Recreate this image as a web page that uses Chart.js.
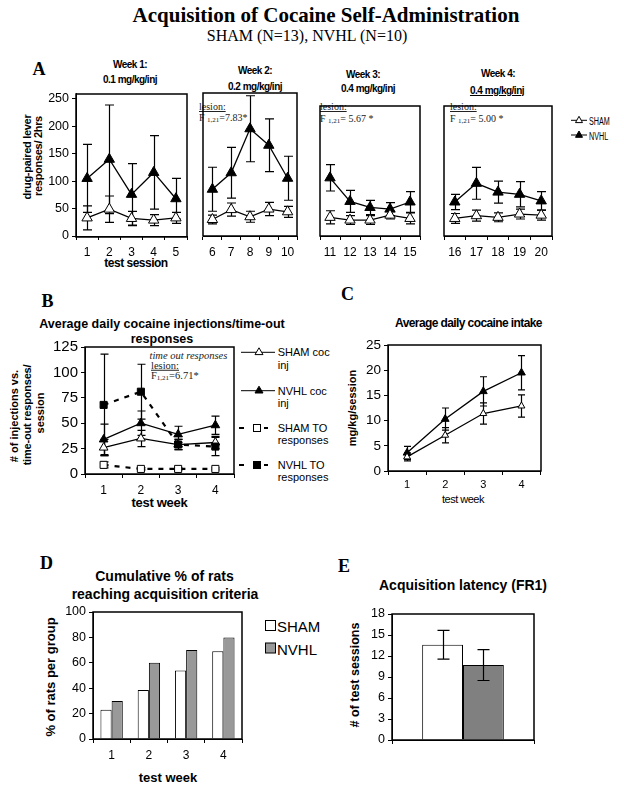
<!DOCTYPE html>
<html>
<head>
<meta charset="utf-8">
<script src="https://cdn.jsdelivr.net/npm/chart.js@4.4.0/dist/chart.umd.min.js"></script>
<style>
  body { margin: 0; background: #fff; }
  #fig { position: relative; width: 624px; height: 786px; overflow: hidden;
         font-family: 'Liberation Sans', Arial, sans-serif; color: #000; }
  #fig canvas, #fig svg { position: absolute; }
  .t { position: absolute; transform: translate(-50%, -50%); white-space: nowrap; line-height: 1; }
  .l { position: absolute; transform: translateY(-50%); white-space: nowrap; line-height: 1; }
  .rot { position: absolute; transform: translate(-50%, -50%) rotate(-90deg); white-space: nowrap; line-height: 1; }
  .serif { font-family: 'Liberation Serif', 'Times New Roman', serif; }
  .b { font-weight: bold; }
  .big { font-family: 'Liberation Serif', 'Times New Roman', serif; font-weight: bold; font-size: 18px; }
  .wk { font-weight: bold; font-size: 10px; letter-spacing: -0.5px; }
  .les { font-family: 'Liberation Serif', 'Times New Roman', serif; font-size: 10px; color: #222; }
  .les sub { font-size: 7px; vertical-align: -1px; }
  .nar { display: inline-block; transform: scaleX(0.72); transform-origin: 0 50%; font-size: 10px; }
</style>
</head>
<body>
<div id="fig">
  <!-- titres -->
  <div class="t serif b" style="left:326px;top:15px;font-size:21px">Acquisition of Cocaine Self-Administration</div>
  <div class="t serif" style="left:307px;top:36px;font-size:16px">SHAM (N=13), NVHL (N=10)</div>

  <!-- panneau A -->
  <div class="t big" style="left:39px;top:69px">A</div>
  <div class="t wk" style="left:130px;top:65px">Week 1:</div>
  <div class="t wk" style="left:130px;top:80px">0.1 mg/kg/inj</div>
  <div class="t wk" style="left:255px;top:71px">Week 2:</div>
  <div class="t wk" style="left:255px;top:86.5px">0.2 mg/kg/inj</div>
  <div class="t wk" style="left:363px;top:75px">Week 3:</div>
  <div class="t wk" style="left:368px;top:89px">0.4 mg/kg/inj</div>
  <div class="t wk" style="left:498px;top:74px">Week 4:</div>
  <div class="t wk" style="left:497px;top:91px;text-decoration:underline">0.4 mg/kg/inj</div>
  <div class="rot b" style="left:27px;top:157px;font-size:11px;letter-spacing:-0.3px">drug-paired lever</div>
  <div class="rot b" style="left:38px;top:156px;font-size:11px;letter-spacing:-0.3px">responses/ 2hrs</div>
  <div class="t b" style="left:136px;top:263px;font-size:12px;letter-spacing:-0.5px">test session</div>
  <div class="l les" style="left:199px;top:107px;text-decoration:underline">lesion:</div>
  <div class="l les" style="left:199px;top:117.5px">F <sub>1,21</sub>=7.83*</div>
  <div class="l les" style="left:320px;top:107px;text-decoration:underline">lesion:</div>
  <div class="l les" style="left:320px;top:118.5px">F <sub>1,21</sub>= 5.67 *</div>
  <div class="l les" style="left:450px;top:107px;text-decoration:underline">lesion:</div>
  <div class="l les" style="left:450px;top:118.5px">F <sub>1,21</sub>= 5.00 *</div>
  <svg style="left:568px;top:112px" width="22" height="30">
    <line x1="3" y1="8.3" x2="19" y2="8.3" stroke="#000"/>
    <polygon points="11,4.3 14.5,10.6 7.5,10.6" fill="#fff" stroke="#000"/>
    <line x1="3" y1="23" x2="19" y2="23" stroke="#000"/>
    <polygon points="11,19 14.5,25.3 7.5,25.3" fill="#000" stroke="#000"/>
  </svg>
  <div class="l" style="left:588.5px;top:120.3px"><span class="nar">SHAM</span></div>
  <div class="l" style="left:588.5px;top:135px"><span class="nar">NVHL</span></div>

  <!-- panneau B -->
  <div class="t big" style="left:47.5px;top:301px">B</div>
  <div class="t b" style="left:162px;top:324px;font-size:12.5px">Average daily cocaine injections/time-out</div>
  <div class="t b" style="left:162px;top:339px;font-size:12.5px">responses</div>
  <div class="rot b" style="left:14px;top:416px;font-size:11px">#&nbsp;of injections vs.</div>
  <div class="rot b" style="left:27px;top:415px;font-size:11px;letter-spacing:-0.2px">time-out responses/</div>
  <div class="rot b" style="left:39.5px;top:413px;font-size:11px">session</div>
  <div class="t b" style="left:159.5px;top:502px;font-size:13px;letter-spacing:-0.3px">test week</div>
  <div class="l les" style="left:149.5px;top:356px;font-style:italic;font-size:10.5px">time out responses</div>
  <div class="l les" style="left:151px;top:365.5px;text-decoration:underline;font-size:10.5px">lesion:</div>
  <div class="l les" style="left:151px;top:375.5px;font-size:10.5px">F<sub>1,21</sub>=6.71*</div>
  <svg style="left:236px;top:340px" width="44" height="140">
    <line x1="5" y1="12.3" x2="39" y2="12.3" stroke="#000"/>
    <polygon points="23,7.8 27,14.6 19,14.6" fill="#fff" stroke="#000"/>
    <line x1="5" y1="50.7" x2="39" y2="50.7" stroke="#000"/>
    <polygon points="23,46.2 27,53 19,53" fill="#000" stroke="#000"/>
    <line x1="3" y1="88" x2="8" y2="88" stroke="#000" stroke-width="2"/>
    <rect x="17.5" y="84.5" width="7" height="7" fill="#fff" stroke="#000"/>
    <line x1="28" y1="88" x2="32" y2="88" stroke="#000" stroke-width="2"/>
    <line x1="3" y1="125" x2="8" y2="125" stroke="#000" stroke-width="2"/>
    <rect x="17.5" y="121.5" width="7" height="7" fill="#000" stroke="#000"/>
    <line x1="28" y1="125" x2="32" y2="125" stroke="#000" stroke-width="2"/>
  </svg>
  <div class="l" style="left:277.7px;top:352.3px;font-size:11px">SHAM coc</div>
  <div class="l" style="left:277.7px;top:364.5px;font-size:11px">inj</div>
  <div class="l" style="left:277.7px;top:390.7px;font-size:11px">NVHL coc</div>
  <div class="l" style="left:277.7px;top:403px;font-size:11px">inj</div>
  <div class="l" style="left:277.7px;top:428px;font-size:11px">SHAM TO</div>
  <div class="l" style="left:277.7px;top:440px;font-size:11px">responses</div>
  <div class="l" style="left:277.7px;top:465px;font-size:11px">NVHL TO</div>
  <div class="l" style="left:277.7px;top:477px;font-size:11px">responses</div>

  <!-- panneau C -->
  <div class="t big" style="left:347.5px;top:293.5px">C</div>
  <div class="t b" style="left:468.5px;top:323px;font-size:12px;letter-spacing:-0.6px">Average daily cocaine intake</div>
  <div class="rot b" style="left:352px;top:408px;font-size:11px">mg/kg/session</div>
  <div class="t" style="left:463px;top:499px;font-size:11px;letter-spacing:-0.5px">test week</div>

  <!-- panneau D -->
  <div class="t big" style="left:46.5px;top:562.5px">D</div>
  <div class="t b" style="left:164.5px;top:576px;font-size:14px">Cumulative % of rats</div>
  <div class="t b" style="left:165px;top:594px;font-size:14px">reaching acquisition criteria</div>
  <div class="rot b" style="left:50px;top:677px;font-size:13px">% of rats per group</div>
  <div class="t b" style="left:168px;top:777px;font-size:13px">test week</div>
  <svg style="left:262px;top:617px" width="16" height="40">
    <rect x="3.5" y="3.5" width="10" height="10" fill="#fff" stroke="#000"/>
    <rect x="3.5" y="26" width="10" height="10" fill="#999" stroke="#000"/>
  </svg>
  <div class="l" style="left:277px;top:626px;font-size:15px">SHAM</div>
  <div class="l" style="left:277px;top:648.5px;font-size:15px">NVHL</div>

  <!-- panneau E -->
  <div class="t big" style="left:344px;top:565.5px">E</div>
  <div class="t b" style="left:463px;top:585px;font-size:14px">Acquisition latency (FR1)</div>
  <div class="rot b" style="left:355px;top:675px;font-size:12.5px">#&nbsp;of test sessions</div>
</div>

<script>
// Données
// A : réponses sur le levier actif / 2 h, séances 1 à 20
const sessions = ['1','2','3','4','5','6','7','8','9','10','11','12','13','14','15','16','17','18','19','20'];
const nvhlResp = [105,140,76,116,68, 85,115,195,165,105, 106,63,52,49,62, 62,96,80,76,64];
const nvhlRespErr = [62,99,56,67,37, 40,46,60,48,40, 24,20,13,12,19, 14,29,20,23,17];
const shamResp = [33,49,32,29,33, 30,48,35,49,44, 34,29,29,38,32, 32,37,34,40,38];
const shamRespErr = [22,24,13,10,10, 8,12,10,12,10, 12,8,8,7,10, 9,10,8,9,9];

// B : injections et réponses en time-out par semaine
const weeks = ['1','2','3','4'];
const shamCoc = [26,35,29,31];
const shamCocErr = [8,8,5,6];
const nvhlCoc = [34,50,39,48];
const nvhlCocErr = [15,12,8,9];
const shamTO = [9,5,5,5];
const shamTOErr = [3,1,1,1];
const nvhlTO = [68,81,29,27];
const nvhlTOErr = [50,27,5,9];

// C : apport moyen de cocaïne (mg/kg/séance)
const shamIntake = [2.8,7.1,11.4,12.9];
const shamIntakeErr = [0.8,1.5,2.1,2.2];
const nvhlIntake = [3.6,10.3,15.8,19.5];
const nvhlIntakeErr = [1.3,2.2,2.9,3.4];

// D : % cumulé de rats atteignant le critère
const shamPct = [23,38.5,54,69];
const nvhlPct = [30,60,70,80];

// E : latence d'acquisition
const shamLatency = [13.6];
const shamLatencyErr = [2.05];
const nvhlLatency = [10.7];
const nvhlLatencyErr = [2.2];

const SANS = "'Liberation Sans', Arial, sans-serif";
Chart.defaults.font.family = SANS;
Chart.defaults.color = '#000';

// barres d'erreur (avant les points pour les lignes, après pour les barres)
function drawErrors(chart, opts) {
  const ctx = chart.ctx;
  const y = chart.scales.y;
  ctx.save();
  ctx.strokeStyle = '#000';
  ctx.lineWidth = 1.2;
  chart.data.datasets.forEach((ds, i) => {
    if (!ds.errors) return;
    chart.getDatasetMeta(i).data.forEach((el, j) => {
      const v = ds.data[j], e = ds.errors[j];
      const x = Math.round(el.x) + 0.5;
      const top = y.getPixelForValue(v + e), bot = y.getPixelForValue(v - e);
      const c = opts.cap || 4;
      ctx.beginPath();
      ctx.moveTo(x, top); ctx.lineTo(x, bot);
      ctx.moveTo(x - c, top); ctx.lineTo(x + c, top);
      ctx.moveTo(x - c, bot); ctx.lineTo(x + c, bot);
      ctx.stroke();
    });
  });
  ctx.restore();
}
const errorBars = {
  id: 'errorBars',
  beforeDatasetsDraw(chart, args, opts) { if (!opts.after) drawErrors(chart, opts); },
  afterDatasetsDraw(chart, args, opts) { if (opts.after) drawErrors(chart, opts); }
};
// cadre autour de la zone de tracé
const frame = {
  id: 'frame',
  afterDraw(chart) {
    const a = chart.chartArea, ctx = chart.ctx;
    ctx.save();
    ctx.strokeStyle = '#000';
    ctx.lineWidth = 1.5;
    ctx.strokeRect(Math.round(a.left), Math.round(a.top),
                   Math.round(a.right - a.left), Math.round(a.bottom - a.top));
    ctx.restore();
  }
};
Chart.register(errorBars, frame);

// crée un canvas dont la zone de tracé tombe sur area = [gauche, haut, droite, bas]
function makeChart(area, m, config) {
  const cv = document.createElement('canvas');
  const w = area[2] - area[0] + m.l + m.r;
  const h = area[3] - area[1] + m.t + m.b;
  cv.width = w; cv.height = h;
  cv.style.left = (area[0] - m.l) + 'px';
  cv.style.top = (area[1] - m.t) + 'px';
  cv.style.width = w + 'px';
  cv.style.height = h + 'px';
  document.getElementById('fig').appendChild(cv);
  const o = config.options;
  o.responsive = false;
  o.animation = false;
  o.layout = { padding: { top: m.t, right: m.r, left: 0, bottom: 0 } };
  o.plugins = Object.assign({ legend: { display: false }, tooltip: { enabled: false } }, o.plugins);
  o.scales.x.afterFit = s => { s.height = m.b; };
  o.scales.y.afterFit = s => { s.width = m.l; };
  return new Chart(cv, config);
}

function line(data, errors, fill, style, r, dashed) {
  return {
    data: data, errors: errors,
    borderColor: '#000', borderWidth: dashed ? 2.2 : 1.3, borderDash: dashed ? [5, 6] : [],
    pointStyle: style, pointRadius: r, pointBackgroundColor: fill,
    pointBorderColor: '#000', pointBorderWidth: 1, fill: false, tension: 0
  };
}
function xAxis(size, pad, show) {
  return {
    type: 'category', offset: true,
    grid: { offset: true, drawOnChartArea: false, drawTicks: true, tickLength: 4, color: '#000' },
    border: { color: '#000' },
    ticks: { display: show !== false, font: { size: size }, padding: pad, maxRotation: 0, autoSkip: false }
  };
}
function yAxis(max, step, size, show) {
  return {
    display: show, min: 0, max: max,
    grid: { drawOnChartArea: false, tickLength: 4, color: '#000' },
    border: { color: '#000' },
    ticks: { stepSize: step, includeBounds: false, font: { size: size }, padding: 3 }
  };
}

// Panneau A : une boîte par semaine
const boxesA = [
  [[76, 93, 192, 236], 260, 76],
  [[196, 93, 302, 236], 260, 0],
  [[313, 106, 425, 236], 237, 0],
  [[437, 106, 557, 236], 237, 0]
];
boxesA.forEach((bx, k) => {
  const s = k * 5, e = s + 5;
  makeChart(bx[0], { l: bx[2], t: 10, r: 2, b: 26 }, {
    type: 'line',
    data: {
      labels: sessions.slice(s, e),
      datasets: [
        line(shamResp.slice(s, e), shamRespErr.slice(s, e), '#fff', 'triangle', 6),
        line(nvhlResp.slice(s, e), nvhlRespErr.slice(s, e), '#000', 'triangle', 6)
      ]
    },
    options: {
      plugins: { errorBars: { cap: 4.5 } },
      scales: { x: xAxis(12, 5), y: yAxis(bx[1], 50, 12.5, k === 0) }
    }
  });
});

// Panneau B
makeChart([85, 347, 238, 474], { l: 85, t: 12, r: 2, b: 24 }, {
  type: 'line',
  data: {
    labels: weeks,
    datasets: [
      line(shamTO, shamTOErr, '#fff', 'rect', 5, true),
      line(nvhlTO, nvhlTOErr, '#000', 'rect', 5, true),
      line(shamCoc, shamCocErr, '#fff', 'triangle', 5),
      line(nvhlCoc, nvhlCocErr, '#000', 'triangle', 5)
    ]
  },
  options: {
    plugins: { errorBars: { cap: 4 } },
    scales: { x: xAxis(12, 5), y: yAxis(125, 25, 15, true) }
  }
});

// Panneau C
makeChart([388, 345, 542, 471], { l: 48, t: 12, r: 4, b: 24 }, {
  type: 'line',
  data: {
    labels: weeks,
    datasets: [
      line(shamIntake, shamIntakeErr, '#fff', 'triangle', 4),
      line(nvhlIntake, nvhlIntakeErr, '#000', 'triangle', 4.5)
    ]
  },
  options: {
    plugins: { errorBars: { cap: 3.5 } },
    scales: { x: xAxis(11, 3), y: yAxis(25, 5, 13.5, true) }
  }
});

// Panneau D
makeChart([93, 612, 242, 739], { l: 60, t: 12, r: 4, b: 26 }, {
  type: 'bar',
  data: {
    labels: weeks,
    datasets: [
      { data: shamPct, backgroundColor: '#fff', borderColor: '#000', borderWidth: 1 },
      { data: nvhlPct, backgroundColor: '#999', borderColor: '#000', borderWidth: 1 }
    ]
  },
  options: {
    categoryPercentage: 0.6, barPercentage: 1,
    scales: { x: xAxis(12, 5), y: yAxis(100, 20, 12.5, true) }
  }
});

// Panneau E
makeChart([392, 614, 534, 740], { l: 40, t: 12, r: 4, b: 12 }, {
  type: 'bar',
  data: {
    labels: [''],
    datasets: [
      { data: shamLatency, errors: shamLatencyErr, backgroundColor: '#fff', borderColor: '#000', borderWidth: 1 },
      { data: nvhlLatency, errors: nvhlLatencyErr, backgroundColor: '#808080', borderColor: '#000', borderWidth: 1 }
    ]
  },
  options: {
    categoryPercentage: 0.575, barPercentage: 1,
    plugins: { errorBars: { cap: 6, after: true } },
    scales: { x: xAxis(12, 2, false), y: yAxis(18, 3, 12.5, true) }
  }
});
</script>
</body>
</html>
